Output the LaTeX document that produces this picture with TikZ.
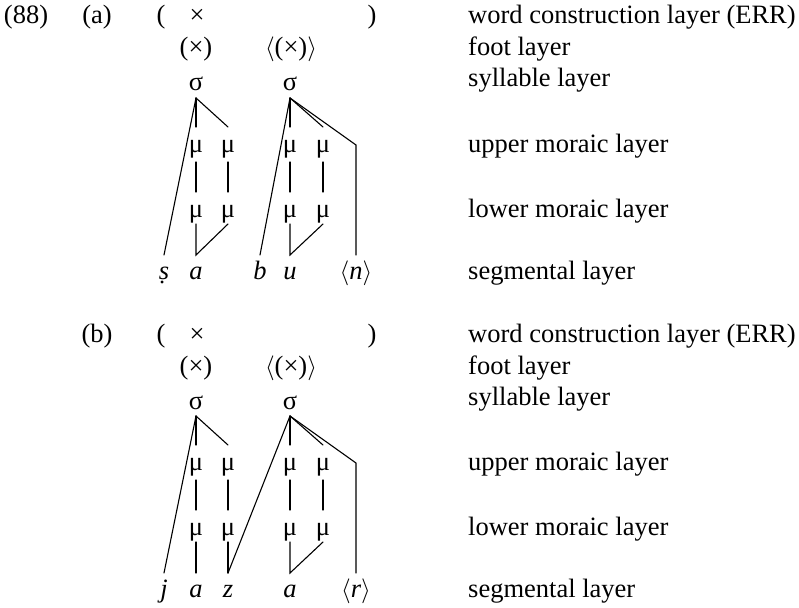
\documentclass[tikz,border=0pt]{standalone}
\usepackage{fontspec}
\setmainfont{Liberation Serif}
\begin{document}
\begin{tikzpicture}[x=1pt,y=-1pt,
  tx/.style={anchor=base, inner sep=0pt, font=\fontsize{26.5}{30}\selectfont},
  lbl/.style={anchor=base west, inner sep=0pt, font=\fontsize{26.5}{30}\selectfont},
  ln/.style={line width=1.1pt, line cap=round}]
\useasboundingbox (0,0) rectangle (799,607);

% ---------- (a) ----------
\node[tx] (ex) at (26,24) {(88)};
\node[tx] (pa) at (97,24) {(a)};
\node[tx] (aL) at (161,24) {(};
\node[tx] (aX) at (197,24) {×};
\node[tx] (aR) at (372,24) {)};
\node[tx] (aF1) at (196,56) {(×)};
\node[tx] (aF2) at (291,56) {$\langle$(×)$\rangle$};
\node[tx] (aS1) at (196,91) {σ};
\node[tx] (aS2) at (290,91) {σ};
\node[tx] (aU1) at (196,152) {μ};
\node[tx] (aU2) at (228,152) {μ};
\node[tx] (aU3) at (290,152) {μ};
\node[tx] (aU4) at (323,152) {μ};
\node[tx] (aD1) at (196,217) {μ};
\node[tx] (aD2) at (228,217) {μ};
\node[tx] (aD3) at (290,217) {μ};
\node[tx] (aD4) at (323,217) {μ};
\node[tx] (aG1) at (164,279) {\textit{ṣ}};
\node[tx] (aG2) at (196,279) {\textit{a}};
\node[tx] (aG3) at (260,279) {\textit{b}};
\node[tx] (aG4) at (290,279) {\textit{u}};
\node[tx] (aG5) at (356,279) {$\langle$\textit{n}$\rangle$};
\coordinate (aK) at (356,145);

\node[lbl] (aT1) at (468,24) {word construction layer (ERR)};
\node[lbl] (aT2) at (468,56) {foot layer};
\node[lbl] (aT3) at (468,87) {syllable layer};
\node[lbl] (aT4) at (468,152) {upper moraic layer};
\node[lbl] (aT5) at (468,217) {lower moraic layer};
\node[lbl] (aT6) at (468,279) {segmental layer};

\coordinate (aS1b) at ([yshift=-7pt]aS1.base);
\coordinate (aS2b) at ([yshift=-7pt]aS2.base);
\draw[ln] (aS1b) -- ([yshift=25pt]aU1.base);
\draw[ln] (aS1b) -- ([yshift=25pt]aU2.base);
\draw[ln] (aS1b) -- ([yshift=24pt]aG1.base);
\draw[ln] ([yshift=-10pt]aU1.base) -- ([yshift=25pt]aD1.base);
\draw[ln] ([yshift=-10pt]aU2.base) -- ([yshift=25pt]aD2.base);
\draw[ln] ([yshift=-10pt]aU3.base) -- ([yshift=25pt]aD3.base);
\draw[ln] ([yshift=-10pt]aU4.base) -- ([yshift=25pt]aD4.base);
\draw[ln] ([yshift=-7pt]aD1.base) -- ([yshift=24pt]aG2.base) -- ([yshift=-7pt]aD2.base);
\draw[ln] (aS2b) -- ([yshift=24pt]aG3.base);
\draw[ln] (aS2b) -- ([yshift=25pt]aU3.base);
\draw[ln] (aS2b) -- ([yshift=25pt]aU4.base);
\draw[ln] (aS2b) -- (aK) -- ([yshift=24pt]aG5.base);
\draw[ln] ([yshift=-7pt]aD3.base) -- ([yshift=24pt]aG4.base) -- ([yshift=-7pt]aD4.base);

% ---------- (b) ----------
\begin{scope}[yshift=-318pt]
\node[tx] (pb) at (97,24) {(b)};
\node[tx] (bL) at (161,24) {(};
\node[tx] (bX) at (197,24) {×};
\node[tx] (bR) at (372,24) {)};
\node[tx] (bF1) at (196,56) {(×)};
\node[tx] (bF2) at (291,56) {$\langle$(×)$\rangle$};
\node[tx] (bS1) at (196,91) {σ};
\node[tx] (bS2) at (290,91) {σ};
\node[tx] (bU1) at (196,152) {μ};
\node[tx] (bU2) at (228,152) {μ};
\node[tx] (bU3) at (290,152) {μ};
\node[tx] (bU4) at (323,152) {μ};
\node[tx] (bD1) at (196,217) {μ};
\node[tx] (bD2) at (228,217) {μ};
\node[tx] (bD3) at (290,217) {μ};
\node[tx] (bD4) at (323,217) {μ};
\node[tx] (bG1) at (164,279) {\textit{j}};
\node[tx] (bG2) at (196,279) {\textit{a}};
\node[tx] (bG3) at (228,279) {\textit{z}};
\node[tx] (bG4) at (290,279) {\textit{a}};
\node[tx] (bG5) at (356,279) {$\langle$\textit{r}$\rangle$};
\coordinate (bK) at (356,145);

\node[lbl] (bT1) at (468,24) {word construction layer (ERR)};
\node[lbl] (bT2) at (468,56) {foot layer};
\node[lbl] (bT3) at (468,87) {syllable layer};
\node[lbl] (bT4) at (468,152) {upper moraic layer};
\node[lbl] (bT5) at (468,217) {lower moraic layer};
\node[lbl] (bT6) at (468,279) {segmental layer};

\coordinate (bS1b) at ([yshift=-7pt]bS1.base);
\coordinate (bS2b) at ([yshift=-7pt]bS2.base);
\draw[ln] (bS1b) -- ([yshift=25pt]bU1.base);
\draw[ln] (bS1b) -- ([yshift=25pt]bU2.base);
\draw[ln] (bS1b) -- ([yshift=24pt]bG1.base);
\draw[ln] ([yshift=-10pt]bU1.base) -- ([yshift=25pt]bD1.base);
\draw[ln] ([yshift=-10pt]bU2.base) -- ([yshift=25pt]bD2.base);
\draw[ln] ([yshift=-10pt]bU3.base) -- ([yshift=25pt]bD3.base);
\draw[ln] ([yshift=-10pt]bU4.base) -- ([yshift=25pt]bD4.base);
\draw[ln] ([yshift=-7pt]bD1.base) -- ([yshift=24pt]bG2.base);
\draw[ln] ([yshift=-7pt]bD2.base) -- ([yshift=24pt]bG3.base);
\draw[ln] (bS2b) -- ([yshift=24pt]bG3.base);
\draw[ln] (bS2b) -- ([yshift=25pt]bU3.base);
\draw[ln] (bS2b) -- ([yshift=25pt]bU4.base);
\draw[ln] (bS2b) -- (bK) -- ([yshift=24pt]bG5.base);
\draw[ln] ([yshift=-7pt]bD3.base) -- ([yshift=24pt]bG4.base) -- ([yshift=-7pt]bD4.base);
\end{scope}
\end{tikzpicture}
\end{document}
